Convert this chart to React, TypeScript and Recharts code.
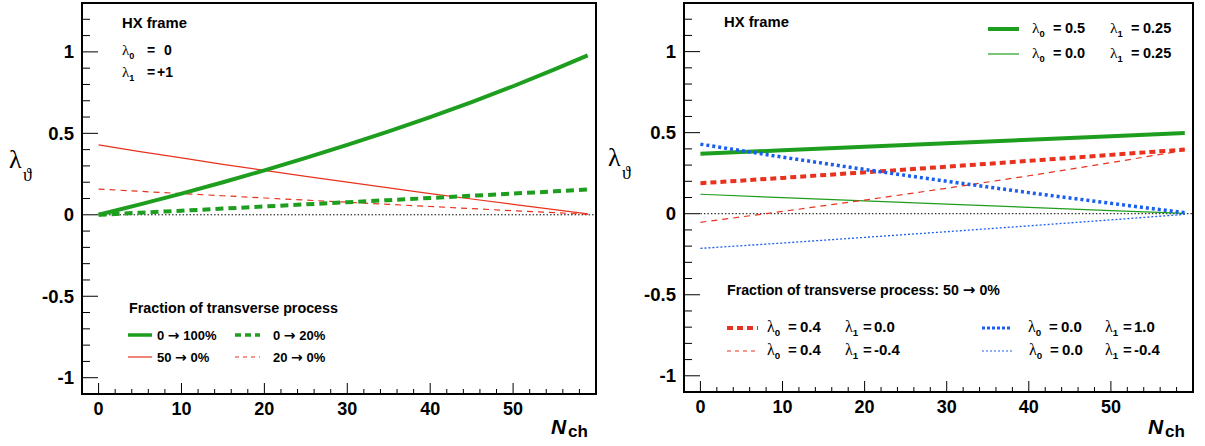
import { Line, LineChart, ReferenceArea, ReferenceLine, XAxis, YAxis } from "recharts";

// values
const leftN = [0, 5, 10, 15, 20, 25, 30, 35, 40, 45, 50, 55, 59];
const left0to100 = [0, 0.064, 0.13, 0.2, 0.273, 0.349, 0.429, 0.512, 0.6, 0.692, 0.789, 0.892, 0.978];
const left0to20 = [0, 0.013, 0.025, 0.038, 0.051, 0.064, 0.077, 0.09, 0.103, 0.117, 0.13, 0.144, 0.155];
const left50to0 = [0.429, 0.388, 0.349, 0.31, 0.273, 0.236, 0.2, 0.165, 0.13, 0.097, 0.064, 0.032, 0.006];
const left20to0 = [0.158, 0.144, 0.13, 0.117, 0.103, 0.09, 0.077, 0.064, 0.051, 0.038, 0.025, 0.013, 0.003];

const rightN = [0, 10, 20, 30, 40, 50, 59];
const rightG05 = [0.37, 0.391, 0.413, 0.434, 0.456, 0.478, 0.498];
const rightG00 = [0.12, 0.099, 0.079, 0.059, 0.039, 0.019, 0.002];
const rightR04 = [0.188, 0.221, 0.255, 0.29, 0.326, 0.363, 0.396];
const rightR04m = [-0.053, 0.014, 0.084, 0.157, 0.234, 0.315, 0.391];
const rightB10 = [0.429, 0.349, 0.273, 0.2, 0.13, 0.064, 0.006];
const rightB04m = [-0.214, -0.181, -0.146, -0.111, -0.075, -0.038, -0.004];

const xTicks = [0, 2, 4, 6, 8, 10, 12, 14, 16, 18, 20, 22, 24, 26, 28, 30, 32, 34, 36, 38, 40, 42, 44, 46, 48, 50, 52, 54, 56, 58];
const yTicks = [-1, -0.9, -0.8, -0.7, -0.6, -0.5, -0.4, -0.3, -0.2, -0.1, 0, 0.1, 0.2, 0.3, 0.4, 0.5, 0.6, 0.7, 0.8, 0.9, 1, 1.1, 1.2];

const FONT = "'Liberation Sans', Arial, Helvetica, sans-serif";
const SERIF = "'Liberation Serif', 'DejaVu Serif', serif";
const ARROW = "'DejaVu Sans', sans-serif";
const GREEN = "#1e9e1e";
const RED = "#e8321e";
const BLUE = "#1a5ef0";

const leftData = leftN.map((n, i) => ({
  n,
  g100: left0to100[i],
  g20: left0to20[i],
  r50: left50to0[i],
  r20: left20to0[i],
}));

const rightData = rightN.map((n, i) => ({
  n,
  g05: rightG05[i],
  g00: rightG00[i],
  r04: rightR04[i],
  r04m: rightR04m[i],
  b10: rightB10[i],
  b04m: rightB04m[i],
}));

type SeriesDef = { key: string; color: string; width: number; dash?: string };

const leftSeries: SeriesDef[] = [
  { key: "r50", color: RED, width: 1.2 },
  { key: "r20", color: RED, width: 1.2, dash: "6 5" },
  { key: "g20", color: GREEN, width: 4, dash: "8 5" },
  { key: "g100", color: GREEN, width: 4 },
];

const rightSeries: SeriesDef[] = [
  { key: "g00", color: GREEN, width: 1.2 },
  { key: "r04m", color: RED, width: 1.2, dash: "6 5" },
  { key: "b04m", color: BLUE, width: 1.3, dash: "2 2" },
  { key: "g05", color: GREEN, width: 4 },
  { key: "r04", color: RED, width: 4, dash: "6 4" },
  { key: "b10", color: BLUE, width: 3.5, dash: "3 3" },
];

const XTick = (props: any) => {
  const { x, y, payload } = props;
  const v = payload.value;
  const major = v % 10 === 0;
  return (
    <g>
      <line x1={x} x2={x} y1={y} y2={y - (major ? 11 : 5)} stroke="#000" strokeWidth={1} />
      {major && (
        <text x={x} y={y + 21} textAnchor="middle" fontFamily={FONT} fontWeight="bold" fontSize={18} fill="#000">
          {v}
        </text>
      )}
    </g>
  );
};

const YTick = (props: any) => {
  const { x, y, payload } = props;
  const v = payload.value;
  const major = Math.abs(v * 2 - Math.round(v * 2)) < 1e-6;
  return (
    <g>
      <line x1={x} x2={x + (major ? 16 : 8)} y1={y} y2={y} stroke="#000" strokeWidth={1} />
      {major && (
        <text x={x - 8} y={y + 6.5} textAnchor="end" fontFamily={FONT} fontWeight="bold" fontSize={18.5} fill="#000">
          {String(v)}
        </text>
      )}
    </g>
  );
};

function Panel(props: {
  data: any[];
  series: SeriesDef[];
  width: number;
  right: number;
  yWidth: number;
  xHeight: number;
}) {
  const { data, series, width, right, yWidth, xHeight } = props;
  return (
    <LineChart width={width} height={446} data={data} margin={{ top: 3, right, bottom: 0, left: 0 }}>
      <XAxis
        dataKey="n"
        type="number"
        domain={[-2, 60]}
        allowDataOverflow
        ticks={xTicks}
        interval={0}
        height={xHeight}
        axisLine={false}
        tickLine={false}
        tickSize={0}
        tickMargin={0}
        tick={<XTick />}
      />
      <YAxis
        type="number"
        domain={[-1.1, 1.3]}
        allowDataOverflow
        ticks={yTicks}
        interval={0}
        width={yWidth}
        axisLine={false}
        tickLine={false}
        tickSize={0}
        tickMargin={0}
        tick={<YTick />}
      />
      <ReferenceLine
        segment={[{ x: 0, y: 0 }, { x: 60, y: 0 }]}
        stroke="#000"
        strokeWidth={1}
        strokeDasharray="1.5 2"
      />
      {series.map((s) => (
        <Line
          key={s.key}
          dataKey={s.key}
          type="linear"
          stroke={s.color}
          strokeWidth={s.width}
          strokeDasharray={s.dash}
          dot={false}
          activeDot={false}
          isAnimationActive={false}
        />
      ))}
      <ReferenceArea x1={-2} x2={60} y1={-1.1} y2={1.3} fill="none" stroke="#000" strokeWidth={2} ifOverflow="visible" />
    </LineChart>
  );
}

// λ with index, then "= value" placed at given offsets
function Lam(props: { x: number; y: number; sub: string; val: string; eq?: number; vx?: number; size?: number }) {
  const { x, y, sub, val, eq = 20, vx = 31, size = 14.5 } = props;
  return (
    <g fontFamily={FONT} fontWeight="bold" fill="#000">
      <text x={x} y={y} fontSize={size}>
        <tspan fontFamily={SERIF} fontWeight="normal" fontSize={size + 1}>λ</tspan>
        <tspan fontSize={size * 0.65} dy={4}>{sub}</tspan>
      </text>
      <text x={x + eq} y={y} fontSize={size}>=</text>
      <text x={x + vx} y={y} fontSize={size}>{val}</text>
    </g>
  );
}

function Seg(props: { x1: number; x2: number; y: number; color: string; width: number; dash?: string }) {
  const { x1, x2, y, color, width, dash } = props;
  return <line x1={x1} x2={x2} y1={y} y2={y} stroke={color} strokeWidth={width} strokeDasharray={dash} />;
}

function Txt(props: { x: number; y: number; size?: number; children: any }) {
  const { x, y, size = 13, children } = props;
  return (
    <text x={x} y={y} fontFamily={FONT} fontWeight="bold" fontSize={size} fill="#000">
      {children}
    </text>
  );
}

function Frac(props: { x: number; y: number; from: string; to: string; size?: number }) {
  const { x, y, from, to, size = 13 } = props;
  return (
    <text x={x} y={y} fontFamily={FONT} fontWeight="bold" fontSize={size} fill="#000">
      {from + " "}
      <tspan fontFamily={ARROW} fontSize={size + 1}>→</tspan>
      {" " + to}
    </text>
  );
}

function AxisTitles(props: { lamX: number; lamY: number; nX: number }) {
  const { lamX, lamY, nX } = props;
  return (
    <g>
      <text x={lamX} y={lamY} fontFamily={SERIF} fontSize={26} fill="#000">λ</text>
      <text x={lamX + 14} y={lamY + 13} fontFamily={SERIF} fontSize={18} fill="#000">ϑ</text>
      <text x={nX} y={434} fontFamily={FONT} fontWeight="bold" fontStyle="italic" fontSize={21} fill="#000">N</text>
      <text x={nX + 17} y={437} fontFamily={FONT} fontWeight="bold" fontSize={17} fill="#000">ch</text>
    </g>
  );
}

export default function App() {
  return (
    <div style={{ position: "absolute", left: 0, top: 0, width: 1205, height: 446, background: "#fff" }}>
      <div style={{ position: "absolute", left: 0, top: 0 }}>
        <Panel data={leftData} series={leftSeries} width={600} right={4} yWidth={82} xHeight={52} />
      </div>
      <div style={{ position: "absolute", left: 600, top: 0 }}>
        <Panel data={rightData} series={rightSeries} width={605} right={12} yWidth={84} xHeight={54} />
      </div>
      <svg
        width={1205}
        height={446}
        style={{ position: "absolute", left: 0, top: 0, pointerEvents: "none" }}
      >
        <AxisTitles lamX={9} lamY={168} nX={551} />
        <AxisTitles lamX={608} lamY={166} nX={1148} />

        {/* left panel annotations */}
        <Txt x={122} y={28} size={14.8}>HX frame</Txt>
        <Lam x={122} y={55} sub="0" val="0" eq={25} vx={42} size={14} />
        <Lam x={122} y={77} sub="1" val="+1" eq={25} vx={35} size={14} />

        <Txt x={129} y={313} size={14.3}>Fraction of transverse process</Txt>
        <Seg x1={128} x2={152} y={335} color={GREEN} width={3.5} />
        <Frac x={157} y={340} from="0" to="100%" />
        <Seg x1={235} x2={260} y={335} color={GREEN} width={3.5} dash="6 4" />
        <Frac x={273} y={340} from="0" to="20%" />
        <Seg x1={128} x2={152} y={357} color={RED} width={1.2} />
        <Frac x={157} y={362} from="50" to="0%" />
        <Seg x1={235} x2={260} y={357} color={RED} width={1.2} dash="4 4" />
        <Frac x={273} y={362} from="20" to="0%" />

        {/* right panel annotations */}
        <Txt x={724} y={27} size={14.8}>HX frame</Txt>
        <Seg x1={988} x2={1019} y={29} color={GREEN} width={4} />
        <Lam x={1032} y={33} sub="0" val="0.5" eq={21} vx={33} />
        <Lam x={1110} y={33} sub="1" val="0.25" eq={21} vx={33} />
        <Seg x1={988} x2={1019} y={54} color={GREEN} width={1.2} />
        <Lam x={1032} y={58} sub="0" val="0.0" eq={21} vx={33} />
        <Lam x={1110} y={58} sub="1" val="0.25" eq={21} vx={33} />

        <Frac x={727} y={295} from="Fraction of transverse process: 50" to="0%" size={14.2} />
        <Seg x1={727} x2={758} y={328} color={RED} width={4} dash="6 4" />
        <Lam x={767} y={332} sub="0" val="0.4" eq={21} vx={33} size={15} />
        <Lam x={845} y={332} sub="1" val="0.0" eq={18} vx={29} size={15} />
        <Seg x1={982} x2={1012} y={328} color={BLUE} width={3} dash="3 2" />
        <Lam x={1028} y={332} sub="0" val="0.0" eq={21} vx={33} size={15} />
        <Lam x={1105} y={332} sub="1" val="1.0" eq={18} vx={29} size={15} />
        <Seg x1={727} x2={758} y={351} color={RED} width={1.2} dash="4 4" />
        <Lam x={767} y={355} sub="0" val="0.4" eq={21} vx={33} size={15} />
        <Lam x={845} y={355} sub="1" val="-0.4" eq={18} vx={29} size={15} />
        <Seg x1={982} x2={1012} y={351} color={BLUE} width={1.2} dash="2 2" />
        <Lam x={1029} y={355} sub="0" val="0.0" eq={21} vx={33} size={15} />
        <Lam x={1105} y={355} sub="1" val="-0.4" eq={18} vx={29} size={15} />
      </svg>
    </div>
  );
}
